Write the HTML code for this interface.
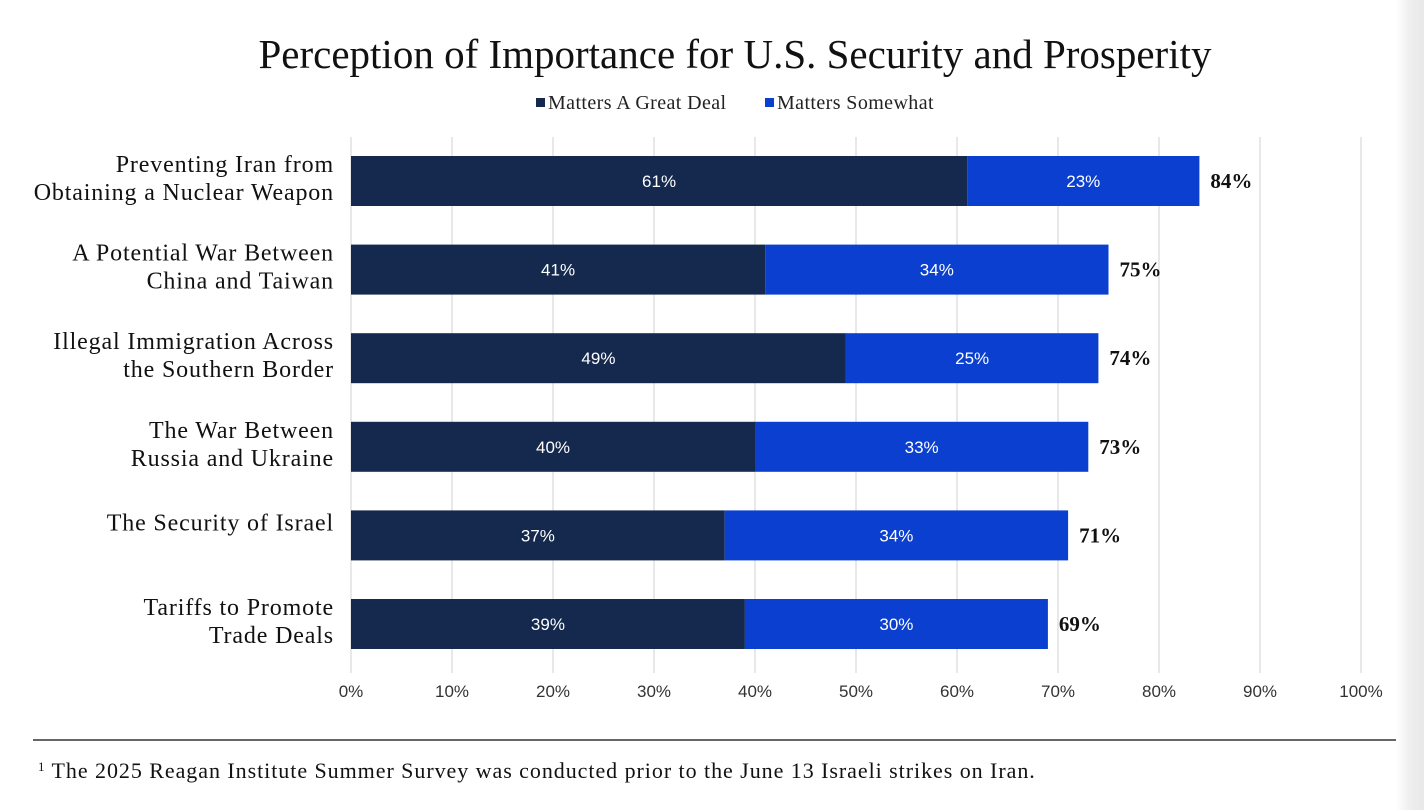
<!DOCTYPE html>
<html><head><meta charset="utf-8"><style>
html,body{margin:0;padding:0;background:#fff;}
body{width:1424px;height:810px;overflow:hidden;position:relative;}
#edge{position:absolute;left:1396px;top:0;width:28px;height:810px;background:linear-gradient(to right,#fff,#eeeeee 50%,#e9e9e9);}
</style></head><body>
<svg id="chart" width="1424" height="810" xmlns="http://www.w3.org/2000/svg" style="position:absolute;left:0;top:0">
<text x="735" y="68" text-anchor="middle" font-family="Liberation Serif, serif" font-size="41" fill="#111">Perception of Importance for U.S. Security and Prosperity</text>
<g font-family="Liberation Serif, serif" font-size="20" letter-spacing="0.4" fill="#222">
<g><rect x="536" y="98" width="9" height="9" fill="#14294d"/><text x="548" y="109">Matters A Great Deal</text></g>
<g><rect x="765" y="98" width="9" height="9" fill="#0a3fd0"/><text x="777" y="109">Matters Somewhat</text></g>
</g>
<g id="grid"></g>
<g id="bars"></g>
<g id="xticks"></g>
<line x1="33" y1="740" x2="1407" y2="740" stroke="#333" stroke-width="1.5"/>
<text x="38" y="778" font-family="Liberation Serif, serif" font-size="22" letter-spacing="0.95" fill="#111"><tspan font-size="13" dy="-7">1</tspan><tspan dy="7"> The 2025 Reagan Institute Summer Survey was conducted prior to the June 13 Israeli strikes on Iran.</tspan></text>
</svg>
<div id="edge"></div>
<script>
const categories=[["Preventing Iran from","Obtaining a Nuclear Weapon"],["A Potential War Between","China and Taiwan"],["Illegal Immigration Across","the Southern Border"],["The War Between","Russia and Ukraine"],["The Security of Israel"],["Tariffs to Promote","Trade Deals"]];
const greatDeal=[61,41,49,40,37,39];
const somewhat=[23,34,25,33,34,30];
const totals=[84,75,74,73,71,69];
const ticks=[0,10,20,30,40,50,60,70,80,90,100];
const NS="http://www.w3.org/2000/svg";
const x=v=>351+v*10.1;
const yc=i=>181+i*88.6;
function mk(t,a,p){const e=document.createElementNS(NS,t);for(const k in a)e.setAttribute(k,a[k]);p.appendChild(e);return e;}
const grid=document.getElementById('grid'),bars=document.getElementById('bars'),xt=document.getElementById('xticks');
ticks.forEach(t=>{
 const l=mk('line',{x1:x(t),x2:x(t),y1:137,y2:673,stroke:'#d9d9d9','stroke-width':1.2},grid);
 
 
 const tx=mk('text',{x:x(t),y:697,'text-anchor':'middle','font-family':'Liberation Sans, sans-serif','font-size':17,fill:'#333'},xt);
 tx.textContent=t+'%';
 
 
});
categories.forEach((c,i)=>{
 const y=yc(i),h=50;
 const lab=mk('text',{x:334,y:0,'text-anchor':'end','font-family':'Liberation Serif, serif','font-size':24,'letter-spacing':0.85,fill:'#111'},bars);
 
 
 const ys=c.length===2?[y-9,y+19]:[y-5];
 c.forEach((s,j)=>{const ts=mk('tspan',{x:334,y:ys[j]},lab);ts.textContent=s;});
 const b1=mk('rect',{x:x(0),y:y-h/2,width:x(greatDeal[i])-x(0),height:h,fill:'#14294d'},bars);
 
 
 const b2=mk('rect',{x:x(greatDeal[i]),y:y-h/2,width:x(greatDeal[i]+somewhat[i])-x(greatDeal[i]),height:h,fill:'#0a3fd0'},bars);
 
 
 const t1=mk('text',{x:(x(0)+x(greatDeal[i]))/2,y:y+6,'text-anchor':'middle','font-family':'Liberation Sans, sans-serif','font-size':17,fill:'#fff'},bars);
 t1.textContent=greatDeal[i]+'%';
 
 
 const t2=mk('text',{x:(x(greatDeal[i])+x(greatDeal[i]+somewhat[i]))/2,y:y+6,'text-anchor':'middle','font-family':'Liberation Sans, sans-serif','font-size':17,fill:'#fff'},bars);
 t2.textContent=somewhat[i]+'%';
 
 
 const t3=mk('text',{x:x(totals[i])+11,y:y+7,'font-family':'Liberation Serif, serif','font-size':21,'font-weight':'bold',fill:'#111'},bars);
 t3.textContent=totals[i]+'%';
 
 
});
</script>
</body></html>
